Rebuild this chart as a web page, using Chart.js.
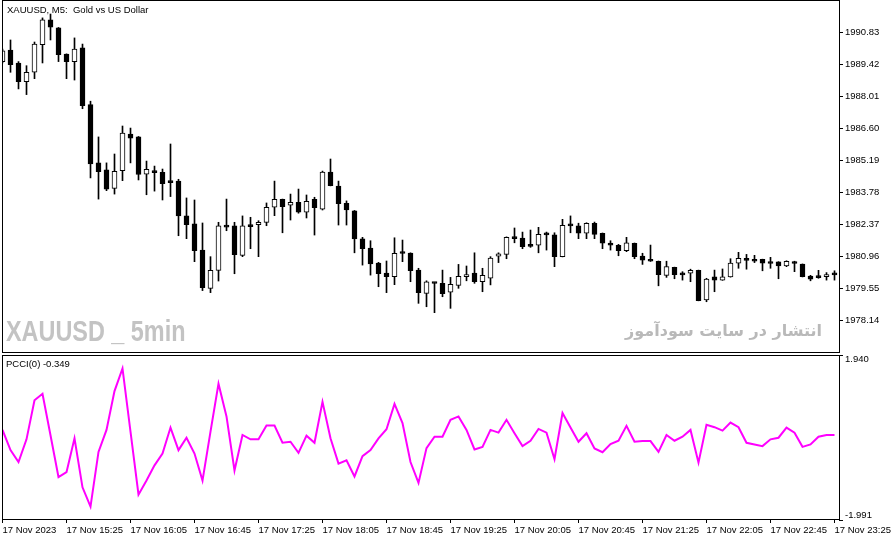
<!DOCTYPE html>
<html>
<head>
<meta charset="utf-8">
<script src="https://cdn.jsdelivr.net/npm/chart.js@4/dist/chart.umd.min.js"></script>
<style>
  body { margin: 0; background: #fff; width: 892px; height: 541px; overflow: hidden; position: relative;
         font-family: "Liberation Sans", Arial, sans-serif; }
  canvas { position: absolute; left: 0; }
  #main { top: -20px; }
  #ind { top: 335px; }
  .txt { position: absolute; white-space: pre; color: #000; font-size: 9.5px; line-height: 10px; }
  #title { left: 7px; top: 5px; }
  #pcciLabel { left: 6px; top: 359px; }
  #mark1 { left: 6px; top: 313px; font-size: 30px; line-height: 36px; font-weight: bold; color: #c3c3c3;
           transform: scaleX(0.78); transform-origin: left top; }
  #mark2 { right: 70px; top: 318px; font-family: "DejaVu Sans", sans-serif; font-size: 16px; line-height: 26px;
           font-weight: bold; color: #b9b9b9; direction: rtl; }
</style>
</head>
<body>
<canvas id="main" width="892" height="393"></canvas>
<canvas id="ind" width="892" height="206"></canvas>
<div class="txt" id="title">XAUUSD, M5:  Gold vs US Dollar</div>
<div class="txt" id="pcciLabel">PCCI(0) -0.349</div>
<div class="txt" id="mark1">XAUUSD _ 5min</div>
<div class="txt" id="mark2">انتشار در سایت سودآموز</div>
<script>
// XAUUSD M5 candles, 17 Nov 2023 14:45 .. 23:25 (one value per bar)
const opens = [
  1989.53, 1990.04, 1989.47, 1988.65, 1989.06, 1990.27, 1991.36, 1991.01, 1989.86, 1989.53,
  1990.13, 1987.64, 1985.08, 1984.77, 1983.96, 1984.74, 1986.35, 1986.22, 1984.58, 1984.72,
  1984.67, 1984.28, 1984.28, 1982.75, 1982.40, 1981.25, 1979.57, 1980.36, 1982.31, 1982.31,
  1981.02, 1982.34, 1982.37, 1982.47, 1983.13, 1983.48, 1983.22, 1983.35, 1982.91, 1983.48,
  1983.05, 1984.68, 1984.06, 1983.30, 1982.97, 1981.74, 1981.34, 1980.68, 1980.24, 1980.08,
  1981.11, 1981.12, 1980.37, 1979.35, 1979.79, 1979.79, 1979.40, 1979.70, 1980.08, 1980.24,
  1979.86, 1980.01, 1980.98, 1981.06, 1981.81, 1981.78, 1981.47, 1981.46, 1981.93, 1981.92,
  1980.96, 1982.40, 1982.31, 1981.99, 1982.43, 1981.99, 1981.56, 1981.46, 1981.22, 1981.55,
  1980.99, 1980.84, 1980.76, 1980.14, 1980.49, 1980.17, 1980.23, 1980.36, 1979.06, 1980.07,
  1979.93, 1980.07, 1980.67, 1980.89, 1980.84, 1980.84, 1980.67, 1980.73, 1980.55, 1980.67,
  1980.63, 1980.11, 1980.11, 1980.08, 1980.17
];
const highs = [
  1990.08, 1990.48, 1989.53, 1989.35, 1990.39, 1991.45, 1991.62, 1991.03, 1989.87, 1990.57,
  1990.30, 1987.79, 1986.22, 1985.08, 1985.47, 1986.70, 1986.61, 1986.24, 1985.16, 1984.94,
  1984.81, 1985.91, 1984.36, 1983.54, 1983.45, 1982.44, 1980.96, 1982.47, 1983.49, 1982.47,
  1982.75, 1982.69, 1982.54, 1983.32, 1984.28, 1983.49, 1983.71, 1983.93, 1983.67, 1983.57,
  1984.72, 1985.25, 1984.28, 1983.41, 1982.99, 1981.81, 1981.66, 1980.71, 1980.77, 1981.79,
  1981.69, 1981.13, 1980.45, 1979.90, 1979.82, 1980.37, 1980.05, 1980.62, 1980.55, 1981.13,
  1980.45, 1980.96, 1981.13, 1981.83, 1982.22, 1982.04, 1982.13, 1982.25, 1982.04, 1982.01,
  1982.60, 1982.75, 1982.43, 1982.45, 1982.48, 1982.00, 1981.66, 1981.50, 1981.81, 1981.56,
  1981.11, 1981.47, 1980.77, 1980.76, 1980.50, 1980.30, 1980.41, 1980.37, 1980.01, 1980.37,
  1980.42, 1980.87, 1981.15, 1981.06, 1981.02, 1980.85, 1980.93, 1980.74, 1980.78, 1980.76,
  1980.64, 1980.14, 1980.36, 1980.26, 1980.34
];
const lows = [
  1989.47, 1989.06, 1988.33, 1988.08, 1988.78, 1989.47, 1990.48, 1989.53, 1988.78, 1988.72,
  1987.46, 1984.42, 1983.49, 1983.86, 1983.71, 1984.30, 1985.08, 1984.33, 1983.68, 1983.84,
  1983.45, 1983.60, 1981.88, 1981.75, 1980.74, 1979.47, 1979.38, 1979.89, 1982.10, 1980.21,
  1980.96, 1981.31, 1980.96, 1982.32, 1982.76, 1982.01, 1982.57, 1982.87, 1982.66, 1981.91,
  1983.01, 1984.07, 1982.35, 1982.35, 1981.13, 1980.59, 1980.15, 1979.64, 1979.38, 1979.73,
  1980.74, 1979.86, 1978.91, 1978.76, 1978.50, 1979.20, 1978.69, 1979.57, 1979.90, 1979.79,
  1979.42, 1979.72, 1980.70, 1980.87, 1981.57, 1981.31, 1981.37, 1981.13, 1981.25, 1980.52,
  1980.95, 1982.01, 1981.75, 1981.75, 1981.75, 1981.31, 1981.25, 1981.00, 1981.18, 1980.87,
  1980.62, 1980.75, 1979.68, 1980.05, 1979.99, 1979.93, 1979.86, 1979.02, 1978.98, 1979.42,
  1979.92, 1980.06, 1980.45, 1980.41, 1980.70, 1980.34, 1980.45, 1979.99, 1980.52, 1980.30,
  1980.07, 1979.90, 1980.01, 1979.93, 1979.93
];
const closes = [
  1990.00, 1989.39, 1988.65, 1989.06, 1990.30, 1991.36, 1991.04, 1989.83, 1989.53, 1990.08,
  1987.59, 1985.03, 1984.69, 1983.93, 1984.71, 1986.39, 1986.17, 1984.57, 1984.80, 1984.65,
  1984.17, 1984.21, 1982.75, 1982.37, 1981.22, 1979.60, 1980.36, 1982.31, 1982.26, 1981.05,
  1982.31, 1982.28, 1982.47, 1983.13, 1983.48, 1983.16, 1983.35, 1982.91, 1983.39, 1983.11,
  1984.68, 1984.08, 1983.29, 1983.01, 1981.74, 1981.31, 1980.64, 1980.21, 1980.08, 1981.11,
  1981.10, 1980.34, 1979.38, 1979.85, 1979.78, 1979.33, 1979.75, 1980.10, 1980.17, 1979.86,
  1980.14, 1980.90, 1981.08, 1981.81, 1981.75, 1981.40, 1981.41, 1981.94, 1981.92, 1980.96,
  1982.34, 1982.31, 1981.99, 1982.43, 1981.94, 1981.55, 1981.46, 1981.22, 1981.57, 1980.96,
  1980.81, 1980.76, 1980.17, 1980.52, 1980.17, 1980.16, 1980.36, 1979.03, 1979.98, 1979.93,
  1980.07, 1980.68, 1980.89, 1980.80, 1980.76, 1980.67, 1980.66, 1980.55, 1980.76, 1980.66,
  1980.08, 1979.97, 1980.04, 1980.17, 1980.16
];

// PCCI indicator, one value per bar
const pcci = [
  0.155, -0.327, -0.610, -0.069, 0.862, 1.016, 0.027, -0.971, -0.851, -0.045,
  -1.213, -1.671, -0.368, 0.155, 1.079, 1.619, 0.114, -1.389, -1.051, -0.689,
  -0.407, 0.211, -0.327, -0.031, -0.407, -1.051, 0.114, 1.257, 0.476, -0.810,
  0.035, -0.069, -0.069, 0.259, 0.259, -0.151, -0.127, -0.392, 0.018, -0.151,
  0.823, -0.045, -0.648, -0.568, -0.954, -0.472, -0.327, -0.045, 0.172, 0.775,
  0.317, -0.610, -1.106, -0.279, -0.006, -0.006, 0.396, 0.476, 0.155, -0.310,
  -0.248, 0.155, 0.090, 0.396, 0.075, -0.231, -0.103, 0.179, 0.090, -0.544,
  0.558, 0.211, -0.127, 0.075, -0.286, -0.376, -0.183, -0.103, 0.252, -0.127,
  -0.110, -0.110, -0.368, 0.035, -0.103, -0.006, 0.155, -0.624, 0.276, 0.220,
  0.138, 0.331, 0.220, -0.151, -0.190, -0.231, -0.069, -0.031, 0.211, 0.090,
  -0.248, -0.190, -0.006, 0.035, 0.035
];

// axis labels
const priceTicks = [1978.14, 1979.55, 1980.96, 1982.37, 1983.78, 1985.19, 1986.60, 1988.01, 1989.42, 1990.83];
const pcciRange = [-1.991, 1.940];
const timeLabels = ['17 Nov 2023', '17 Nov 15:25', '17 Nov 16:05', '17 Nov 16:45', '17 Nov 17:25',
  '17 Nov 18:05', '17 Nov 18:45', '17 Nov 19:25', '17 Nov 20:05', '17 Nov 20:45',
  '17 Nov 21:25', '17 Nov 22:05', '17 Nov 22:45', '17 Nov 23:25'];
const barsPerLabel = 8;

// visible window (bar index units) and price window of the main panel
const xMin = -0.0625, xMax = 104.5625;
const priceMin = 1976.728, priceMax = 1992.236;

const font = { family: '"Liberation Sans", Arial, sans-serif', size: 9.5 };

// black frame round each panel
const frame = {
  id: 'frame',
  afterDraw(chart) {
    const a = chart.chartArea, c = chart.ctx;
    c.save();
    c.strokeStyle = '#000';
    c.lineWidth = 1;
    c.strokeRect(Math.round(a.left) + 0.5, Math.round(a.top) + 0.5,
      Math.round(a.right - a.left), Math.round(a.bottom - a.top) - 1);
    c.restore();
  }
};

function yAxisFit(scale) {
  scale.width = 53;
  scale.paddingTop = 0;
  scale.paddingBottom = 0;
}

const wickData = opens.map((o, i) => ({ x: i, y: [lows[i], highs[i]] }));
const bodyData = opens.map((o, i) => ({ x: i, y: [o, closes[i]] }));
const bodyFill = opens.map((o, i) => closes[i] >= o ? '#ffffff' : '#000000');

new Chart(document.getElementById('main'), {
  type: 'bar',
  data: {
    datasets: [
      { data: bodyData, backgroundColor: bodyFill, borderColor: '#000', borderWidth: 1,
        borderSkipped: false, barThickness: 5, minBarLength: 2, grouped: false, order: 1 },
      { data: wickData, backgroundColor: '#000', borderWidth: 0,
        barThickness: 1, grouped: false, order: 2 }
    ]
  },
  options: {
    responsive: false,
    animation: false,
    events: [],
    layout: { padding: { left: 2, top: 20, right: 0, bottom: 20 } },
    plugins: { legend: { display: false }, tooltip: { enabled: false } },
    scales: {
      x: { type: 'linear', display: false, offset: false, min: xMin, max: xMax },
      y: {
        position: 'right', min: priceMin, max: priceMax,
        afterBuildTicks: s => { s.ticks = priceTicks.map(v => ({ value: v })); },
        afterFit: yAxisFit,
        ticks: { font, color: '#000', padding: 2, autoSkip: false, callback: v => v.toFixed(2) },
        grid: { drawOnChartArea: false, tickLength: 4, color: '#000' },
        border: { display: false }
      }
    }
  },
  plugins: [frame]
});

// label ticks sit a little inside the panel, tick marks at the edges
const labelInset = 0.115;
new Chart(document.getElementById('ind'), {
  type: 'line',
  data: {
    datasets: [{
      data: pcci.map((v, i) => ({ x: i, y: v })),
      borderColor: '#ff00ff', borderWidth: 2, pointRadius: 0, tension: 0, fill: false
    }]
  },
  options: {
    responsive: false,
    animation: false,
    events: [],
    layout: { padding: { left: 2, top: 20, right: 0, bottom: 0 } },
    plugins: { legend: { display: false }, tooltip: { enabled: false } },
    scales: {
      x: {
        type: 'linear', min: xMin, max: xMax,
        afterBuildTicks: s => { s.ticks = timeLabels.map((t, k) => ({ value: k * barsPerLabel })); },
        afterFit: s => { s.height = 21; s.paddingLeft = 0; s.paddingRight = 0; },
        ticks: { font, color: '#000', align: 'start', autoSkip: false, maxRotation: 0, padding: 2,
                 callback: (v, i) => timeLabels[i] },
        grid: { drawOnChartArea: false, tickLength: 3, color: '#000' },
        border: { display: false }
      },
      y: {
        position: 'right', min: pcciRange[0], max: pcciRange[1],
        afterBuildTicks: s => {
          s.ticks = [pcciRange[0], pcciRange[0] + labelInset, pcciRange[1] - labelInset, pcciRange[1]]
            .map(v => ({ value: v }));
        },
        afterFit: yAxisFit,
        ticks: {
          font, color: '#000', padding: 2, autoSkip: false,
          callback: (v, i) => i === 1 ? pcciRange[0].toFixed(3) : i === 2 ? pcciRange[1].toFixed(3) : ''
        },
        grid: {
          drawOnChartArea: false, tickLength: 4,
          tickColor: ctx => (ctx.index === 0 || ctx.index === 3) ? '#000' : 'rgba(0,0,0,0)'
        },
        border: { display: false }
      }
    }
  },
  plugins: [frame]
});
</script>
</body>
</html>
